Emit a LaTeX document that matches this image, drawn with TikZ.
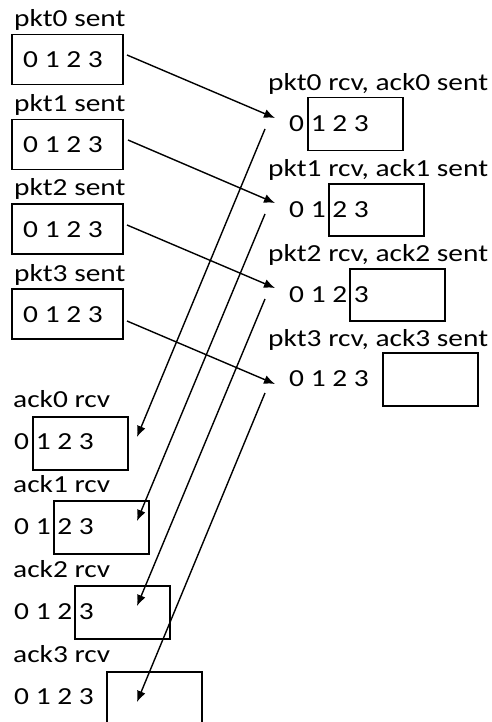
\documentclass[tikz,border=0pt]{standalone}
\usepackage{fontspec}
\setmainfont{Carlito}[FakeStretch=1.2]
\usetikzlibrary{arrows.meta}
\begin{document}
\begin{tikzpicture}[x=1pt,y=-1pt,
  txt/.style={anchor=base west,inner sep=0pt,font=\fontsize{24.5}{29}\selectfont},
  win/.style={draw,line width=1.5pt,anchor=north west,inner sep=0pt,minimum width=#1},
  win/.default=95pt,
  msg/.style={line width=1.4pt,-{Latex[length=11pt,width=9pt]}}]
\useasboundingbox (0,0) rectangle (492,722);

% sender side: packets sent
\foreach \k/\y in {0/0,1/85,2/169,3/254}{
  \node[txt] (sl\k) at (14,27+\y) {pkt\k{} sent};
  \node[win=111pt,minimum height=50pt] (sb\k) at (11,34+\y) {};
  \node[txt] (sd\k) at (23,68+\y) {0 1 2 3};
}

% receiver side: packets received, acks sent
\node[txt] (rl0) at (268,91)  {pkt0 rcv, ack0 sent};
\node[txt] (rl1) at (268,177) {pkt1 rcv, ack1 sent};
\node[txt] (rl2) at (268,261) {pkt2 rcv, ack2 sent};
\node[txt] (rl3) at (268,346) {pkt3 rcv, ack3 sent};
\node[win,minimum height=53pt] (rb0) at (307,97)  {};
\node[win,minimum height=52pt] (rb1) at (328,183) {};
\node[win,minimum height=52pt] (rb2) at (349,268) {};
\node[win,minimum height=53pt] (rb3) at (382,352) {};
\node[txt] (rd0) at (289,132) {0 1 2 3};
\node[txt] (rd1) at (289,217) {0 1 2 3};
\node[txt] (rd2) at (289,302) {0 1 2 3};
\node[txt] (rd3) at (289,386) {0 1 2 3};

% sender side: acks received
\node[txt] (al0) at (13,407) {ack0 rcv};
\node[txt] (al1) at (13,492) {ack1 rcv};
\node[txt] (al2) at (13,577) {ack2 rcv};
\node[txt] (al3) at (13,662) {ack3 rcv};
\node[win,minimum height=53pt] (ab0) at (32,416)  {};
\node[win,minimum height=53pt] (ab1) at (53,500)  {};
\node[win,minimum height=53pt] (ab2) at (74,585)  {};
\node[win,minimum height=55pt] (ab3) at (106,671) {};
\node[txt] (ad0) at (14,449) {0 1 2 3};
\node[txt] (ad1) at (14,534) {0 1 2 3};
\node[txt] (ad2) at (14,619) {0 1 2 3};
\node[txt] (ad3) at (14,704) {0 1 2 3};

% arrow end points
\coordinate (p0s) at (127,55);  \coordinate (p0r) at (275,118);
\coordinate (p1s) at (128,140); \coordinate (p1r) at (275,203);
\coordinate (p2s) at (127,225); \coordinate (p2r) at (275,288);
\coordinate (p3s) at (127,321); \coordinate (p3r) at (275,384);
\coordinate (a0s) at (265,129); \coordinate (a0r) at (137,437);
\coordinate (a1s) at (265,214); \coordinate (a1r) at (137,521);
\coordinate (a2s) at (265,299); \coordinate (a2r) at (137,606);
\coordinate (a3s) at (265,393); \coordinate (a3r) at (137,702);

% packets forward, acks back
\foreach \k in {0,...,3}{
  \draw[msg] (p\k s) -- (p\k r);
  \draw[msg] (a\k s) -- (a\k r);
}
\end{tikzpicture}
\end{document}
